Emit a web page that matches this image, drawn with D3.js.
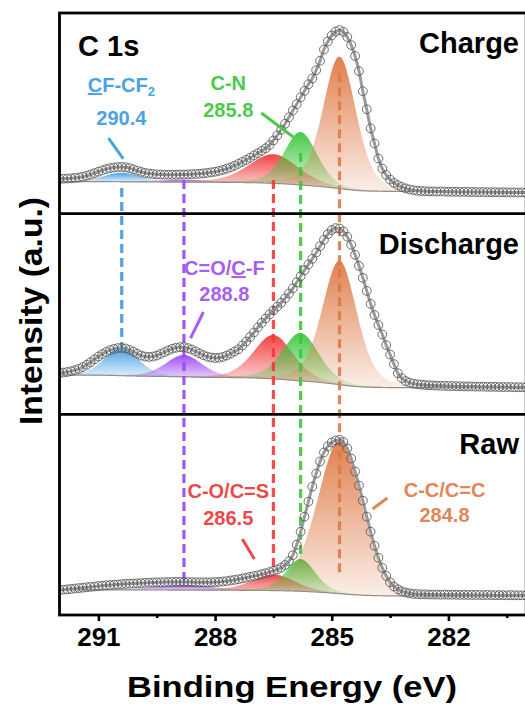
<!DOCTYPE html>
<html>
<head>
<meta charset="utf-8">
<script src="https://cdn.jsdelivr.net/npm/d3@7/dist/d3.min.js"></script>
<style>
  body { margin: 0; background: #fff; }
  svg { display: block; }
  text { font-family: "Liberation Sans", Arial, sans-serif; font-weight: bold; }
</style>
</head>
<body>
<svg id="chart" width="525" height="711"></svg>
<script>
// ---- C 1s spectra (binding energy grid 292.0 -> 280.0 eV, 0.1 eV step) ----
const energyStart = 292.0;
const energyStep = 0.1;

const chargeCounts = [
  17.3,17.4,17.5,17.6,17.8,18.0,18.4,18.9,19.5,20.2,20.9,
  21.6,22.2,22.7,23.0,23.2,23.3,23.1,22.7,22.1,21.4,
  20.8,20.3,20.0,19.8,19.6,19.5,19.4,19.4,19.4,19.4,
  19.5,19.5,19.6,19.7,19.8,19.9,20.1,20.3,20.6,20.9,
  21.3,21.8,22.4,23.1,23.9,24.8,25.8,26.8,27.9,29.0,
  30.1,31.3,32.6,34.2,36.5,39.0,41.8,44.8,48.0,51.4,
  54.6,58.0,61.2,64.5,67.4,71.5,76.2,81.8,85.8,88.8,
  90.8,91.5,90.6,88.0,84.0,78.6,71.0,61.0,52.0,42.5,
  35.0,27.5,22.5,19.3,17.0,15.3,14.2,13.3,12.6,12.1,
  11.7,11.4,11.3,11.2,11.1,11.1,11.0,11.1,11.0,10.9,
  10.9,10.9,10.8,10.9,10.8,10.8,10.8,10.7,10.8,10.7,
  10.7,10.7,10.6,10.7,10.6,10.6,10.6,10.5,10.6,10.5
];

const dischargeCounts = [
  20.6,20.8,21.1,21.5,22.0,22.7,23.6,24.7,26.0,27.4,28.8,
  30.0,31.1,32.0,32.6,33.0,33.1,32.8,32.1,31.2,30.2,
  29.3,28.8,28.6,28.8,29.3,30.1,31.0,31.9,32.7,33.2,
  33.5,33.4,33.0,32.3,31.4,30.4,29.5,28.8,28.3,28.1,
  28.2,28.6,29.3,30.2,31.3,32.4,34.3,36.3,38.5,40.8,
  43.3,45.6,47.8,49.8,51.8,53.7,55.6,57.8,60.2,62.8,
  65.8,68.8,71.8,74.7,77.5,80.6,83.8,87.0,89.8,91.8,
  92.8,92.6,91.2,88.5,84.5,79.5,74.0,68.0,61.5,55.0,
  49.5,44.5,39.8,34.5,29.8,25.0,20.5,18.0,16.6,15.8,
  15.3,15.0,14.8,14.6,14.5,14.4,14.3,14.2,14.2,14.1,
  14.1,14.0,14.0,13.9,13.9,13.9,13.8,13.8,13.8,13.7,
  13.7,13.7,13.6,13.6,13.6,13.6,13.5,13.5,13.5,13.5
];

const rawCounts = [
  12.4,12.6,12.8,13.0,13.2,13.4,13.6,13.8,14.0,14.2,14.4,
  14.6,14.8,14.9,15.1,15.2,15.4,15.5,15.6,15.7,15.8,
  15.9,16.0,16.1,16.2,16.3,16.3,16.4,16.4,16.5,16.5,
  16.5,16.5,16.4,16.4,16.3,16.3,16.3,16.3,16.3,16.4,
  16.5,16.7,16.9,17.2,17.5,17.8,18.2,18.6,19.0,19.4,
  19.8,20.3,20.8,21.4,22.0,22.7,23.6,24.9,26.8,29.8,
  35.0,41.5,49.0,56.5,64.0,70.5,76.5,81.0,84.0,86.0,
  87.0,87.3,86.2,83.0,78.0,71.5,64.5,57.0,49.0,41.5,
  34.5,28.5,23.5,19.5,16.3,14.2,12.8,11.8,11.2,10.8,
  10.5,10.4,10.3,10.3,10.2,10.2,10.2,10.1,10.2,10.1,
  10.1,10.1,10.0,10.1,10.0,10.0,10.0,10.0,9.9,10.0,
  9.9,9.9,9.9,9.9,9.8,9.9,9.8,9.8,9.8,9.8
];

// ---- fitted components: centre (eV), height, FWHM (eV) ----
const peakNames   = ["CF-CF2", "C=O/C-F", "C-O/C=S", "C-N", "C-C/C=C"];
const peakCenters = [290.4, 288.8, 286.5, 285.8, 284.8];
const peakColors  = ["#3d9be3", "#9a45f2", "#f03a3a", "#3cc63c", "#de7a45"];
const labelColors = ["#4aa3e3", "#a65ff0", "#ec4a4a", "#4cc94c", "#e0875a"];

const chargeHeights    = [4.5, 1.2, 14.5, 26.4, 65.8];
const chargeWidths     = [1.1, 1.4, 1.5, 1.0, 1.0];
const dischargeHeights = [14.4, 10.9, 21.9, 23.9, 61.8];
const dischargeWidths  = [1.0, 1.1, 1.2, 1.1, 1.05];
const rawHeights       = [0, 2.6, 8.0, 16.0, 76.0];
const rawWidths        = [1.0, 1.7, 1.3, 0.9, 1.35];
const lorentzMix = 0.3;

// Shirley background end levels [high-BE side, low-BE side]
const chargeBackground    = [16.0, 11.0];
const dischargeBackground = [19.6, 13.2];
const rawBackground       = [12.5, 9.4];

const panelNames = ["Charge", "Discharge", "Raw"];
const xTicks = [291, 288, 285, 282];
const xMinorTicks = [289.5, 286.5, 283.5, 280.5];

// ---- layout ----
const svg = d3.select("#chart");
const plotLeft = 59.5, plotRight = 526.2, plotTop = 13, plotBottom = 615;
const panelH = (plotBottom - plotTop) / 3;

const x = d3.scaleLinear().domain([292, 280]).range([plotLeft, plotRight]);
const yScales = panelNames.map((_, i) =>
  d3.scaleLinear().domain([0, 100]).range([plotTop + panelH * (i + 1), plotTop + panelH * i]));

const panels = [
  { counts: chargeCounts, heights: chargeHeights, widths: chargeWidths, bg: chargeBackground },
  { counts: dischargeCounts, heights: dischargeHeights, widths: dischargeWidths, bg: dischargeBackground },
  { counts: rawCounts, heights: rawHeights, widths: rawWidths, bg: rawBackground }
];

function voigt(e, c, h, w) {
  const t = (e - c) / w;
  return h * ((1 - lorentzMix) * Math.exp(-4 * Math.LN2 * t * t) + lorentzMix / (1 + 4 * t * t));
}

const fine = d3.range(0, 601).map(i => 292 - i * 0.02);
const defs = svg.append("defs");

svg.append("clipPath").attr("id", "plotClip")
  .append("rect").attr("x", plotLeft).attr("y", plotTop)
  .attr("width", plotRight - plotLeft).attr("height", plotBottom - plotTop);

const plot = svg.append("g").attr("clip-path", "url(#plotClip)");

panels.forEach((p, pi) => {
  const y = yScales[pi];
  // component profiles on the fine grid
  const comps = peakCenters.map((c, k) => fine.map(e => voigt(e, c, p.heights[k], p.widths[k])));
  const total = fine.map((e, j) => d3.sum(comps, cp => cp[j]));
  // Shirley-type background: step proportional to peak area on the low-BE side
  const cum = new Array(fine.length).fill(0);
  for (let j = fine.length - 2; j >= 0; j--) cum[j] = cum[j + 1] + total[j];
  const bgAt = cum.map(s => p.bg[1] + (p.bg[0] - p.bg[1]) * s / cum[0]);

  const g = plot.append("g");

  comps.forEach((cp, k) => {
    if (p.heights[k] <= 0) return;
    const pts = fine.map((e, j) => ({ e, b: bgAt[j], v: cp[j] })).filter(d => d.v > 0.08);
    const gid = `grad-${pi}-${k}`;
    const grad = defs.append("linearGradient").attr("id", gid)
      .attr("x1", 0).attr("y1", 0).attr("x2", 0).attr("y2", 1);
    grad.append("stop").attr("offset", "0%").attr("stop-color", peakColors[k]).attr("stop-opacity", 0.95);
    grad.append("stop").attr("offset", "100%").attr("stop-color", peakColors[k]).attr("stop-opacity", 0.12);
    g.append("path").datum(pts)
      .attr("fill", `url(#${gid})`)
      .attr("d", d3.area().x(d => x(d.e)).y0(d => y(d.b)).y1(d => y(d.b + d.v)).curve(d3.curveBasis));
  });

  // background line
  g.append("path").datum(fine.map((e, j) => ({ e, b: bgAt[j] })))
    .attr("fill", "none").attr("stroke", "#8f8f8f").attr("stroke-width", 1.2)
    .attr("d", d3.line().x(d => x(d.e)).y(d => y(d.b)));
});

// ---- guide lines at component positions ----
const guideTopPanel    = [0, 0, 0, 0, 0];
const guideTopLevel    = [12.8, 16.8, 16.8, 30.2, 70.0];
const guideBottomPanel = [1, 2, 2, 2, 2];
const guideBottomLevel = [33.0, 17.4, 22.4, 27.0, 20.9];

peakCenters.forEach((c, k) => {
  plot.append("line")
    .attr("x1", x(c)).attr("x2", x(c))
    .attr("y1", yScales[guideTopPanel[k]](guideTopLevel[k]))
    .attr("y2", yScales[guideBottomPanel[k]](guideBottomLevel[k]))
    .attr("stroke", peakColors[k]).attr("stroke-width", 3.2)
    .attr("stroke-dasharray", "9,5").attr("opacity", 0.9);
});

// ---- measured spectra: line + open circles ----
panels.forEach((p, pi) => {
  const y = yScales[pi];
  const pts = p.counts.map((v, i) => ({ e: energyStart - i * energyStep, v }));
  const g = plot.append("g");
  g.append("path").datum(pts)
    .attr("fill", "none").attr("stroke", "#9a9a9a").attr("stroke-width", 3)
    .attr("d", d3.line().x(d => x(d.e)).y(d => y(d.v)).curve(d3.curveMonotoneX));
  g.selectAll("circle").data(pts).join("circle")
    .attr("cx", d => x(d.e)).attr("cy", d => y(d.v)).attr("r", 4.4)
    .attr("fill", "none")
    .attr("stroke", "#5c5c5c").attr("stroke-width", 0.9);
});

// ---- frame and panel dividers ----
svg.append("rect")
  .attr("x", plotLeft).attr("y", plotTop)
  .attr("width", plotRight - plotLeft).attr("height", plotBottom - plotTop)
  .attr("fill", "none").attr("stroke", "#000").attr("stroke-width", 2.8);
[1, 2].forEach(i => {
  svg.append("line")
    .attr("x1", plotLeft).attr("x2", plotRight)
    .attr("y1", plotTop + panelH * i).attr("y2", plotTop + panelH * i)
    .attr("stroke", "#000").attr("stroke-width", 2.8);
});

// ---- x axis ----
const axis = svg.append("g").attr("transform", `translate(0,${plotBottom})`)
  .call(d3.axisBottom(x).tickValues(xTicks).tickSize(6).tickPadding(7).tickFormat(d3.format("d")));
axis.select(".domain").remove();
axis.selectAll(".tick line").attr("stroke", "#000").attr("stroke-width", 2.6);
axis.selectAll(".tick text").attr("font-size", 26).attr("fill", "#000")
  .attr("font-family", "Liberation Sans, Arial, sans-serif").attr("font-weight", "bold");
const minor = svg.append("g").attr("transform", `translate(0,${plotBottom})`)
  .call(d3.axisBottom(x).tickValues(xMinorTicks).tickSize(3).tickFormat(""));
minor.select(".domain").remove();
minor.selectAll(".tick line").attr("stroke", "#000").attr("stroke-width", 2.6);

svg.append("text")
  .attr("x", 292).attr("y", 697)
  .attr("text-anchor", "middle").attr("font-size", 30).attr("fill", "#000")
  .attr("textLength", 330).attr("lengthAdjust", "spacingAndGlyphs")
  .text("Binding Energy (eV)");

svg.append("text")
  .attr("transform", "translate(42,311) rotate(-90)")
  .attr("text-anchor", "middle").attr("font-size", 31).attr("fill", "#000")
  .attr("textLength", 228).attr("lengthAdjust", "spacingAndGlyphs")
  .text("Intensity (a.u.)");

// ---- panel titles ----
panelNames.forEach((name, i) => {
  svg.append("text")
    .attr("x", 519).attr("y", plotTop + panelH * i + 40)
    .attr("text-anchor", "end").attr("font-size", 29).attr("fill", "#000")
    .text(name);
});
svg.append("text").attr("x", 78).attr("y", 56)
  .attr("font-size", 29).attr("fill", "#000").text("C 1s");

// ---- component annotations ----
const annoPanel     = [0, 1, 2, 0, 2];
const annoEnergy    = [290.41, 287.76, 287.66, 287.66, 282.10];
const annoNameLevel = [60.6, 69.4, 58.3, 61.6, 58.8];
const annoValLevel  = [44.2, 56.4, 44.8, 48.2, 46.3];
const leaderFrom = [[290.74, 37.7], [288.30, 51.0], [287.30, 37.9], [286.81, 50.2], [283.57, 58.3]];
const leaderTo   = [[290.36, 27.3], [288.63, 38.0], [286.99, 27.9], [285.99, 38.2], [283.95, 52.8]];
// label text pieces: [text, underline, subscript]
const annoPieces = [
  [["C", true, false], ["F-CF", false, false], ["2", false, true]],
  [["C=O/", false, false], ["C", true, false], ["-F", false, false]],
  [["C-O/C=S", false, false]],
  [["C-N", false, false]],
  [["C-C/C=C", false, false]]
];

peakCenters.forEach((c, k) => {
  const y = yScales[annoPanel[k]];
  const t = svg.append("text")
    .attr("x", x(annoEnergy[k])).attr("y", y(annoNameLevel[k]))
    .attr("text-anchor", "middle").attr("font-size", 20).attr("fill", labelColors[k]);
  annoPieces[k].forEach(([s, ul, sub]) => {
    const ts = t.append("tspan").text(s);
    if (ul) ts.style("text-decoration", "underline");
    if (sub) ts.attr("font-size", 13).attr("dy", 4);
  });
  svg.append("text")
    .attr("x", x(annoEnergy[k])).attr("y", y(annoValLevel[k]))
    .attr("text-anchor", "middle").attr("font-size", 20).attr("fill", labelColors[k])
    .text(c.toFixed(1));
  svg.append("line")
    .attr("x1", x(leaderFrom[k][0])).attr("y1", y(leaderFrom[k][1]))
    .attr("x2", x(leaderTo[k][0])).attr("y2", y(leaderTo[k][1]))
    .attr("stroke", labelColors[k]).attr("stroke-width", 3);
});
</script>
</body>
</html>
